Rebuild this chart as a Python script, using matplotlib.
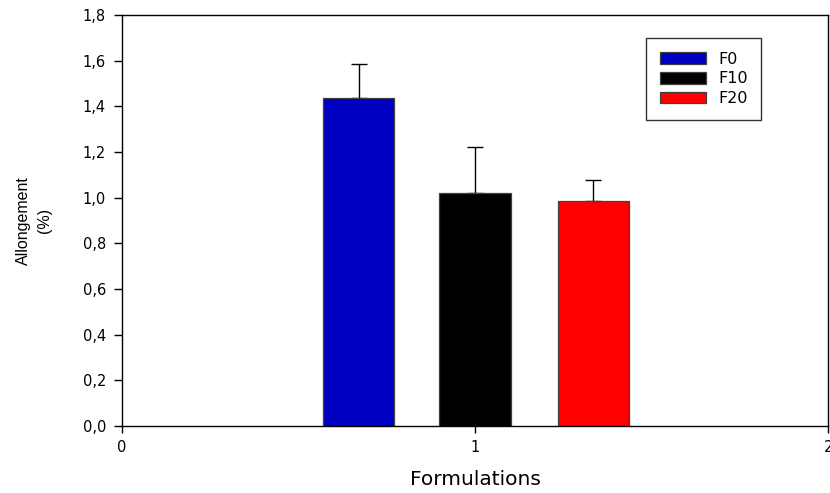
import matplotlib.pyplot as plt
from matplotlib.ticker import FuncFormatter

plt.rcParams['font.family'] = ['DejaVu Sans']

# donnees
formulations = ['F0', 'F10', 'F20']
positions = [0.67, 1.0, 1.335]
allongement = [1.438, 1.019, 0.985]
erreur = [0.148, 0.203, 0.094]
couleurs = ['#0000C0', '#000000', '#FF0000']

fig = plt.figure(figsize=(8.3, 4.93), dpi=100)
ax = fig.add_axes([0.147, 0.136, 0.851, 0.8336])

for x, h, e, c, nom in zip(positions, allongement, erreur, couleurs, formulations):
    ax.bar(x, h, width=0.203, color=c, edgecolor='#404040', linewidth=0.9, label=nom, zorder=2)
    ax.errorbar(x, h, yerr=[[0], [e]], fmt='none', ecolor='black', elinewidth=1.0,
                capsize=5.8, capthick=1.0, zorder=1)

ax.set_xlim(0, 2)
ax.set_ylim(0, 1.8)
ax.set_xticks([0, 1, 2])
ax.set_yticks([0, 0.2, 0.4, 0.6, 0.8, 1.0, 1.2, 1.4, 1.6, 1.8])
ax.yaxis.set_major_formatter(FuncFormatter(lambda v, p: ('%.1f' % v).replace('.', ',')))
ax.tick_params(axis='y', direction='out', length=5.5, width=1, labelsize=10.5, pad=6)
ax.tick_params(axis='x', direction='out', length=5, width=1, labelsize=10.5, pad=5)
for s in ax.spines.values():
    s.set_linewidth(1)

ax.set_xlabel('Formulations', fontsize=14.5, labelpad=11)
ax.set_ylabel('Allongement\n(%)', fontsize=11.5, labelpad=22, linespacing=1.5,
              family='Liberation Sans')

leg = ax.legend(loc='upper left', bbox_to_anchor=(0.742, 0.944), fontsize=11.5,
                handlelength=2.9, handleheight=0.75, handletextpad=0.75,
                labelspacing=0.3, borderpad=0.85, borderaxespad=0, fancybox=False, frameon=True)
leg.get_frame().set_edgecolor('black')
leg.get_frame().set_linewidth(1)

fig.savefig('out.png', dpi=100)
